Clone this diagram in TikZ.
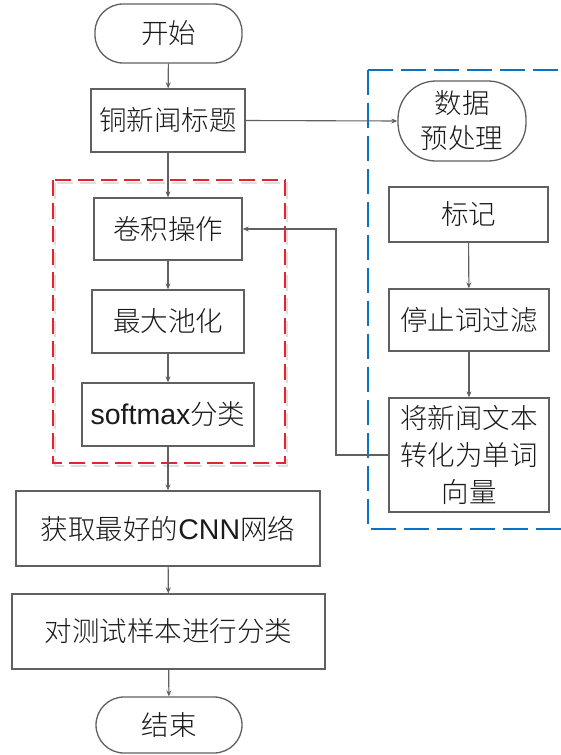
\documentclass[tikz,border=0pt]{standalone}
\usepackage{fontspec}
\setmainfont{Liberation Sans}
\newfontfamily\cjk{Noto Sans CJK SC Light}
\usetikzlibrary{arrows.meta}
\definecolor{linegray}{HTML}{606060}
\definecolor{textblack}{HTML}{1A1A1A}
\definecolor{groupred}{HTML}{E0262E}
\definecolor{groupblue}{HTML}{0A72C4}
\tikzset{
  box/.style={draw=linegray, line width=1.3pt, fill=white, inner sep=0pt,
    align=center, text=textblack, font=\fontsize{27.5}{35}\selectfont\cjk},
  terminal/.style={box, rounded corners=28pt},
  flow/.style={draw=linegray, line width=1.1pt,
    -{Stealth[length=6pt, width=5pt]}},
}
\newcommand{\lat}[1]{{\fontspec{Liberation Sans}\fontsize{28.5}{35}\selectfont#1}}
\begin{document}
\begin{tikzpicture}[x=1pt, y=-1pt]
\path[use as bounding box] (0,0) rectangle (561,755);

% dashed group frames
\draw[gray!25, line width=1.8pt, dash pattern=on 16pt off 7pt]
  (55,183) rectangle (287,466);
\draw[groupred, line width=1.8pt, dash pattern=on 16pt off 7pt]
  (53,180) rectangle (285,463);
\begin{scope}
  \clip (0,0) rectangle (561,755);
  \draw[groupblue, line width=2pt, dash pattern=on 25pt off 8pt]
    (368,70) -- (600,70) (368,70) -- (368,529) -- (600,529);
\end{scope}

% main column
\node[terminal, minimum width=147pt, minimum height=59pt] (start) at (168.5,33.5) {开始};
\node[box, minimum width=154pt, minimum height=63pt] (title) at (168,120.5) {铜新闻标题};
\node[box, minimum width=148pt, minimum height=62pt] (conv) at (168,229) {卷积操作};
\node[box, minimum width=152pt, minimum height=63pt] (pool) at (168,321.5) {最大池化};
\node[box, minimum width=172pt, minimum height=63pt] (soft) at (168,414.5) {\lat{softmax}分类};
\node[box, minimum width=304pt, minimum height=75pt] (best) at (168,528.5) {获取最好的\lat{CNN}网络};
\node[box, minimum width=313pt, minimum height=75pt] (test) at (168.5,631.5) {对测试样本进行分类};
\node[terminal, minimum width=146pt, minimum height=56pt] (end) at (169,725) {结束};

% preprocessing column
\node[box, rounded corners=38pt, minimum width=128pt, minimum height=80pt] (prep) at (462,121) {数据\\预处理};
\node[box, minimum width=159pt, minimum height=55pt] (mark) at (468.5,214.5) {标记};
\node[box, minimum width=160pt, minimum height=62pt] (stop) at (469,320) {停止词过滤};
\node[box, minimum width=160pt, minimum height=114pt,
  font=\fontsize{27.5}{37}\selectfont\cjk] (vec) at (469,455) {将新闻文本\\转化为单词\\向量};

\coordinate (bendlow) at (336,455);
\coordinate (bendhigh) at (336,229);

% connectors
\draw[flow] (start) -- (title);
\draw[flow] (title) -- (conv);
\draw[flow] (conv) -- (pool);
\draw[flow] (pool) -- (soft);
\draw[flow] (soft) -- (best);
\draw[flow] (best) -- (test);
\draw[flow] (test) -- (end);
\draw[flow] (title.east) -- (prep.west);
\draw[flow] (mark) -- (stop);
\draw[flow] (stop) -- (vec);
\draw[flow] (vec.west) -- (bendlow) -- (bendhigh) -- (conv.east);
\end{tikzpicture}
\end{document}
